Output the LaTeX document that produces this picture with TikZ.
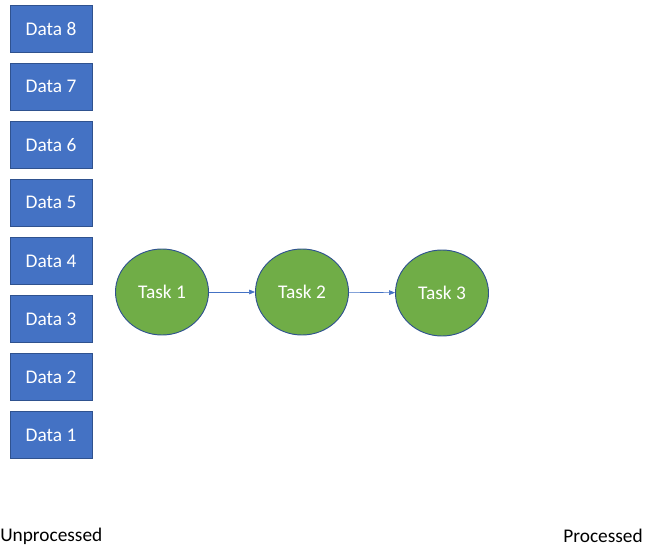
\documentclass[tikz,border=0pt]{standalone}
\usepackage{fontspec}
\setmainfont{Carlito}
\usetikzlibrary{arrows.meta,shapes.geometric}
\definecolor{boxblue}{HTML}{4472C4}
\definecolor{edgeblue}{HTML}{2F528F}
\definecolor{taskgreen}{HTML}{70AD47}
\tikzset{
  databox/.style={draw=edgeblue, line width=0.7pt, fill=boxblue, text=white, minimum width=61.5pt, minimum height=35.25pt, inner sep=0pt, font=\fontsize{14.5}{16}\selectfont},
  taskcirc/.style={ellipse, draw=edgeblue, line width=0.7pt, fill=taskgreen, text=white, minimum width=69.75pt, minimum height=64.5pt, inner sep=0pt, font=\fontsize{14.5}{16}\selectfont},
  flow/.style={draw=boxblue, line width=0.5pt, -{Triangle[length=4.5pt,width=3.5pt]}},
  lbl/.style={inner sep=0pt, font=\fontsize{14.5}{16}\selectfont}
}
\begin{document}
\begin{tikzpicture}[x=0.75pt, y=-0.75pt]
\useasboundingbox (0,0) rectangle (645,552);
\foreach \k in {1,...,8} {
  \node[databox] (d\k) at (51, {28.5 + (8-\k)*58.1}) {Data \k};
}
\node[taskcirc] (t1) at (162,292) {Task 1};
\node[taskcirc] (t2) at (302,292) {Task 2};
\node[taskcirc] (t3) at (442,293) {Task 3};
\draw[flow] (t1) -- (t2);
\draw[flow] (t2) -- (t3);
\node[lbl, anchor=west] (unp) at (0,536) {Unprocessed};
\node[lbl, anchor=east] (pro) at (643,536) {Processed};
\end{tikzpicture}
\end{document}
